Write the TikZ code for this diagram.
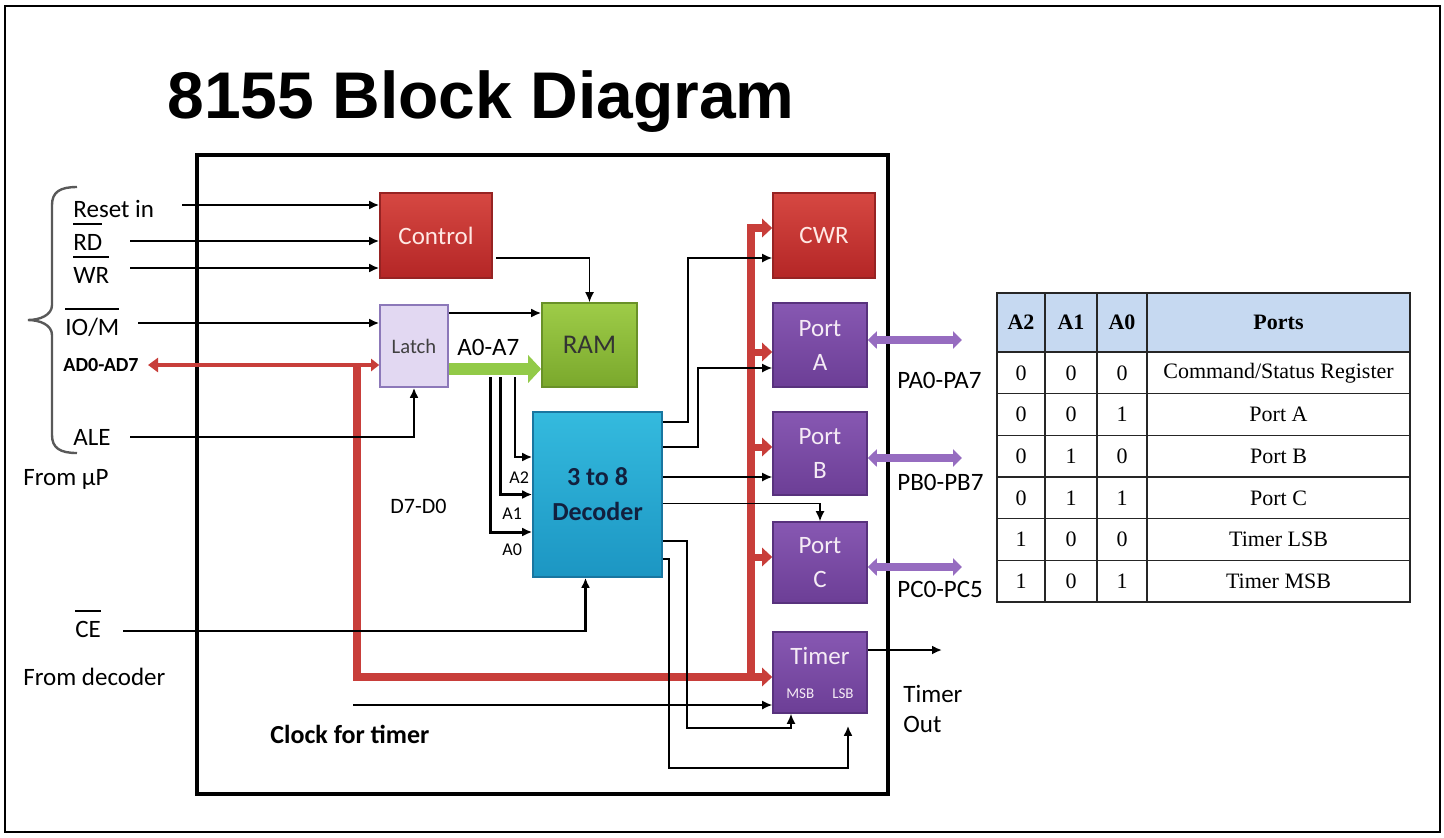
\documentclass[tikz,border=0pt]{standalone}
\usepackage{fontspec}
\setmainfont{Carlito}
\newfontfamily\titlefont{Liberation Sans}
\newfontfamily\tabfont{Liberation Serif}
\usetikzlibrary{arrows.meta,calc}

\definecolor{redtop}{RGB}{214,72,66}
\definecolor{redbot}{RGB}{180,38,38}
\definecolor{redline}{RGB}{150,35,35}
\definecolor{redtxt}{RGB}{255,232,228}
\definecolor{latchfill}{RGB}{226,216,242}
\definecolor{latchline}{RGB}{140,120,185}
\definecolor{ramtop}{RGB}{158,204,72}
\definecolor{rambot}{RGB}{122,168,44}
\definecolor{ramline}{RGB}{105,145,40}
\definecolor{dectop}{RGB}{52,186,222}
\definecolor{decbot}{RGB}{28,150,195}
\definecolor{decline}{RGB}{25,118,160}
\definecolor{dectxt}{RGB}{18,32,62}
\definecolor{porttop}{RGB}{135,88,178}
\definecolor{portbot}{RGB}{108,62,150}
\definecolor{portline}{RGB}{88,50,125}
\definecolor{busred}{RGB}{200,62,58}
\definecolor{agreen}{RGB}{146,202,72}
\definecolor{pvio}{RGB}{150,108,192}
\definecolor{hdrblue}{RGB}{198,217,241}

\newlength\ovw
\newcommand\ovbar[1]{\settowidth\ovw{#1}\rlap{\rule[12.5pt]{\ovw}{0.9pt}}#1}

\begin{document}
\begin{tikzpicture}[x=0.5pt,y=-0.5pt,>={Latex[length=5pt,width=4.5pt]},
  box/.style={draw,line width=0.8pt,inner sep=0pt,align=center},
  redbox/.style={box,draw=redline,top color=redtop,bottom color=redbot,text=redtxt,font=\fontsize{12.5}{15}\selectfont},
  latchbox/.style={box,draw=latchline,fill=latchfill,text=black!75,font=\fontsize{10.3}{12}\selectfont},
  rambox/.style={box,draw=ramline,top color=ramtop,bottom color=rambot,text=black!80,font=\fontsize{13.5}{16}\selectfont},
  decbox/.style={box,draw=decline,top color=dectop,bottom color=decbot,text=dectxt,font=\bfseries\fontsize{13}{17.5}\selectfont},
  portbox/.style={box,draw=portline,top color=porttop,bottom color=portbot,text=white!92!violet,font=\fontsize{12.5}{17}\selectfont,minimum width=47pt},
  lab/.style={font=\fontsize{12.5}{15}\selectfont,inner sep=0pt,anchor=base west},
  sig/.style={->,line width=1.4pt},
  tsig/.style={->,line width=0.8pt},
  asig/.style={->,line width=1.5pt},
  bus/.style={draw=busred,line width=4pt,-{Triangle[length=5pt,width=9pt]}},
  adbus/.style={draw=busred,line width=2pt,{Triangle[length=5pt,width=7pt]}-{Triangle[length=4pt,width=6pt]}},
  gbus/.style={draw=agreen,line width=6pt,-{Triangle[length=6.5pt,width=13.5pt]}},
  pbus/.style={draw=pvio,line width=4pt,{Triangle[length=4.5pt,width=8.5pt]}-{Triangle[length=4.5pt,width=8.5pt]}},
  cell/.style={draw=black!85,line width=0.7pt,inner sep=0pt,minimum height=20.83pt,font=\tabfont\fontsize{11}{13}\selectfont},
  hdr/.style={fill=hdrblue,font=\tabfont\bfseries\fontsize{11}{13}\selectfont}]
 \useasboundingbox (0,0) rectangle (1444,837);
 \draw[line width=1pt] (5,6) rectangle (1440,832);
 \node[anchor=base] (title) at (481,118) {\titlefont\bfseries\fontsize{33}{40}\selectfont 8155 Block Diagram};
 \draw[line width=2pt] (197,155) rectangle (888,794);

 \node[redbox,minimum width=56pt,minimum height=42.5pt] (ctrl) at (436,235.5) {Control};
 \node[latchbox,minimum width=34pt,minimum height=41pt] (latch) at (414,346) {Latch};
 \node[rambox,minimum width=47.5pt,minimum height=42pt] (ram) at (589.5,345) {RAM};
 \node[decbox,minimum width=64.5pt,minimum height=82.5pt] (dec) at (597.5,494.5) {3 to 8\\Decoder};
 \node[redbox,minimum width=51pt,minimum height=42.5pt] (cwr) at (824,235.5) {CWR};
 \node[portbox,minimum height=42pt] (pa) at (820,345) {Port\\A};
 \node[portbox,minimum height=41.5pt] (pb) at (820,453.5) {Port\\B};
 \node[portbox,minimum height=40.5pt] (pc) at (820,562.5) {Port\\C};
 \node[portbox,minimum height=40.5pt] (tmr) at (820,672.5) {Timer\\{\fontsize{7.5}{9}\selectfont MSB\hspace{9pt}LSB}};

 \draw[line width=1.2pt,black!65] (77,187) .. controls (60,187) and (52,192) .. (52,205) -- (52,305)
   .. controls (52,315) and (40,320) .. (28,320) .. controls (40,320) and (52,325) .. (52,335)
   -- (52,435) .. controls (52,448) and (60,453) .. (77,453);
 \node[lab] (lreset) at (73,217) {Reset in};
 \node[lab] (lrd) at (73,250) {\ovbar{RD}};
 \node[lab] (lwr) at (73,283) {\ovbar{WR}};
 \node[lab] (liom) at (65,335) {\ovbar{IO/M}};
 \node[lab,font=\bfseries\fontsize{10}{12}\selectfont] (lad) at (63,371) {AD0-AD7};
 \node[lab] (lale) at (73,445) {ALE};
 \node[lab] (lmup) at (23,485) {From µP};
 \node[lab] (lce) at (75,637) {\ovbar{CE}};
 \node[lab] (ldec) at (23,685) {From decoder};
 \node[lab,font=\bfseries\fontsize{13}{15}\selectfont] (lclk) at (270,743) {Clock for timer};
 \node[lab,font=\fontsize{11}{13}\selectfont] (ld70) at (390,513) {D7-D0};
 \node[lab] (la07) at (457,355) {A0-A7};
 \node[lab,font=\fontsize{9}{11}\selectfont] (la2) at (509,483) {A2};
 \node[lab,font=\fontsize{9}{11}\selectfont] (la1) at (502,519) {A1};
 \node[lab,font=\fontsize{9}{11}\selectfont] (la0) at (502,555) {A0};
 \node[lab] (lpa) at (897,388) {PA0-PA7};
 \node[lab] (lpb) at (897,490) {PB0-PB7};
 \node[lab] (lpc) at (897,597) {PC0-PC5};
 \node[lab,align=left] (ltout) at (903,732) {Timer\\Out};

 \coordinate (iad) at (148,365);
 \coordinate (adj) at (357,365);
 \draw[adbus] (iad) -- (iad -| latch.west);
 \draw[bus] (adj) |- ($(tmr.west)+(0,4.5)$);
 \draw[bus] ($(tmr.west)+(-21,5)$) |- ($(cwr.west)+(0,-7.5)$);
 \foreach \p/\dy in {pa/7,pb/-6.5,pc/-5.5}
   \draw[bus,line width=3.5pt] ($(\p.west)+(-21,\dy)$) -- ($(\p.west)+(0,\dy)$);

 \coordinate (wa0) at (490,377);
 \coordinate (wa1) at (500,377);
 \coordinate (wa2) at (515,377);
 \draw[asig] (wa0) |- ($(dec.west)+(0,37.5)$);
 \draw[asig] (wa1) |- (dec.west);
 \draw[asig,line width=1pt] (wa2) |- ($(dec.west)+(0,-37.5)$);
 \coordinate (abus) at ($(latch.east)+(0,23)$);
 \draw[gbus] (abus) -- (abus -| ram.west);

 \coordinate (ireset) at (182,205);
 \coordinate (ird) at (130,241);
 \coordinate (iwr) at (130,268);
 \coordinate (iiom) at (138,323);
 \coordinate (iale) at (130,437);
 \coordinate (ice) at (123,631);
 \coordinate (iclk) at (353,705);
 \draw[sig] (ireset) -- (ireset -| ctrl.west);
 \draw[sig] (ird) -- (ird -| ctrl.west);
 \draw[sig] (iwr) -- (iwr -| ctrl.west);
 \draw[sig] (iiom) -- (iiom -| latch.west);
 \draw[sig] (iale) -| (latch.south);
 \draw[sig] (ice) -| ($(dec.south)+(-12,0)$);
 \coordinate (lr) at ($(latch.east)+(0,-33)$);
 \draw[sig] (lr) -- (lr -| ram.west);
 \draw[tsig] ($(ctrl.east)+(3,22.5)$) -| (ram.north);

 \draw[tsig] ($(dec.north east)+(0,11)$) -- ++(25,0) |- ($(cwr.west)+(0,22.5)$);
 \draw[tsig] ($(dec.north east)+(0,36)$) -- ++(35,0) |- ($(pa.west)+(0,23)$);
 \coordinate (dpb) at ($(dec.east)+(0,-17.5)$);
 \draw[tsig] (dpb) -- (dpb -| pb.west);
 \draw[tsig] ($(dec.east)+(0,9)$) -| (pc.north);
 \draw[tsig] ($(dec.south east)+(0,-37)$) -- ++(24,0) -- ++(0,187) -| ($(tmr.south)+(-29,0)$);
 \draw[tsig,line width=1.1pt] ($(dec.south east)+(0,-19)$) -- ++(6,0) -- ++(0,209) -| ($(tmr.south)+(28,12)$);
 \draw[tsig] (iclk) -- (iclk -| tmr.west);

 \coordinate (tout) at (942,650);
 \draw[sig] (tout -| tmr.east) -- (tout);
 \coordinate (paio) at (962,340);
 \coordinate (pbio) at (962,458);
 \coordinate (pcio) at (962,567);
 \draw[pbus] (paio -| pa.east) -- (paio);
 \draw[pbus] (pbio -| pb.east) -- (pbio);
 \draw[pbus] (pcio -| pc.east) -- (pcio);

 \foreach \h/\cx/\w [count=\i] in {A2/1021/24,A1/1071/26,A0/1122/25,Ports/1278.5/131.5}
   \node[cell,hdr,minimum width=\w pt,minimum height=29.5pt] (th\i) at (\cx,322.5) {\h};
 \foreach \a/\b/\c/\p [count=\k] in {0/0/0/{Command/Status Register},0/0/1/Port A,0/1/0/Port B,
     0/1/1/Port C,1/0/0/Timer LSB,1/0/1/Timer MSB}{
   \pgfmathsetmacro\ry{352+41.67*(\k-0.5)}
   \node[cell,minimum width=24pt] (ta\k) at (1021,\ry) {\a};
   \node[cell,minimum width=26pt] (tb\k) at (1071,\ry) {\b};
   \node[cell,minimum width=25pt] (tc\k) at (1122,\ry) {\c};
   \node[cell,minimum width=131.5pt] (tp\k) at (1278.5,\ry) {\p};
 }
\end{tikzpicture}
\end{document}
